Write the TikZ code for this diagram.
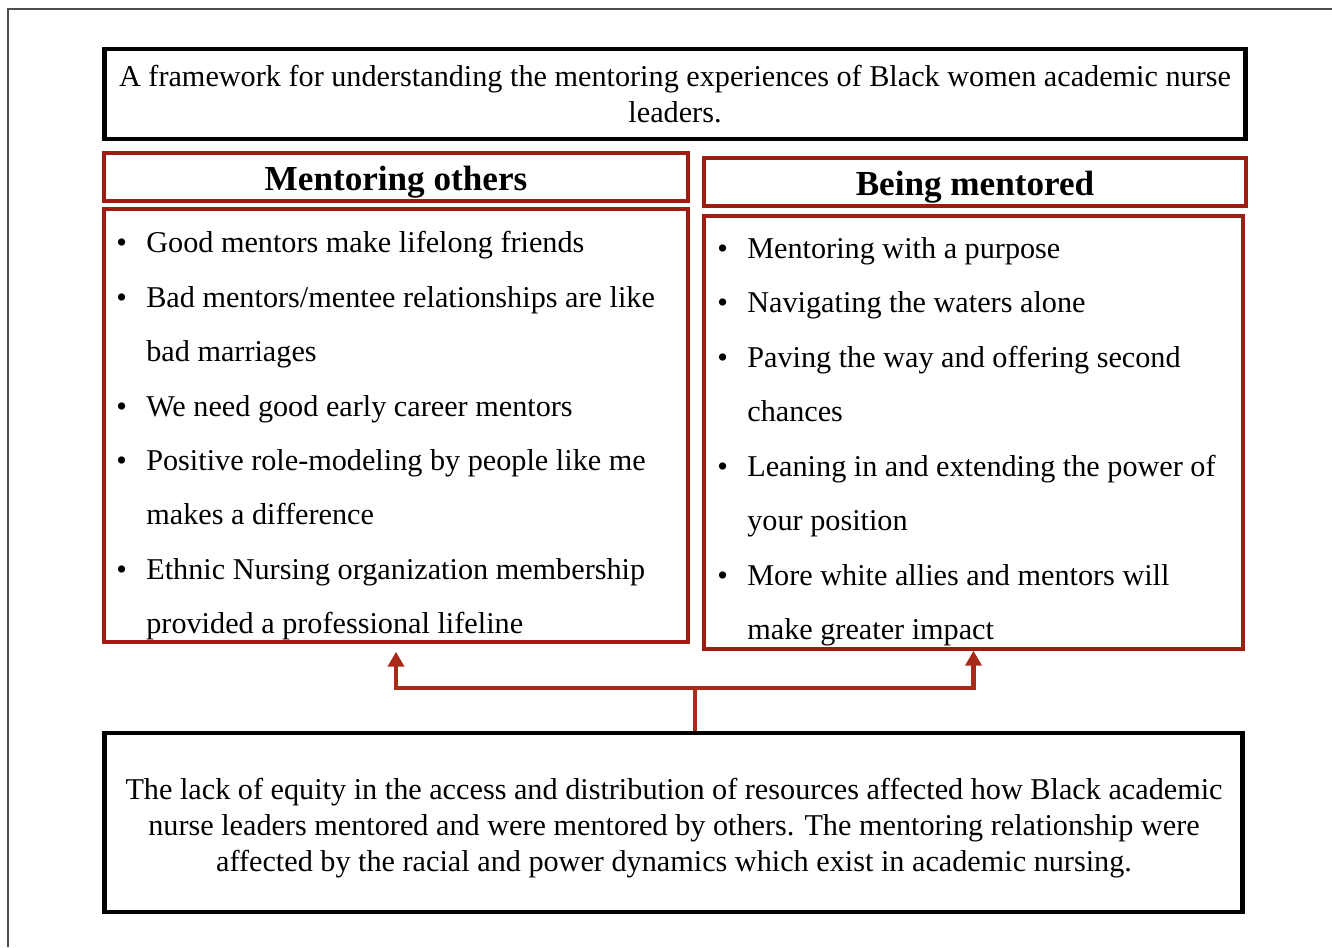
\documentclass[tikz,border=0pt]{standalone}
\usepackage{fontspec}
\setmainfont{Liberation Serif}
\usetikzlibrary{arrows.meta,positioning}

\definecolor{boxred}{RGB}{158,28,18}
\definecolor{linkred}{RGB}{168,42,24}

% bullet line and its continuation line
\newcommand{\bitem}[1]{\makebox[0.6cm][l]{\textbullet}#1}
\newcommand{\bcont}[1]{\hspace*{0.6cm}#1}

\tikzset{
  blackbox/.style={draw=black, line width=2.8pt, inner sep=0pt, align=center,
    font=\fontsize{17.2}{20.5}\selectfont},
  redbox/.style={draw=boxred, line width=2pt, inner sep=0pt},
  headbox/.style={redbox, minimum height=0.96cm, text height=20pt, text depth=4.5pt,
    font=\bfseries\fontsize{20}{24}\selectfont},
  themelist/.style={anchor=north west, inner sep=0pt, align=left,
    font=\fontsize{17.2}{31}\selectfont},
  fork/.style={draw=linkred, line width=2.3pt, -{Triangle[width=0.32cm,length=0.3cm]}},
}

\begin{document}
\begin{tikzpicture}[x=0.02cm,y=-0.02cm]
  \useasboundingbox (0,0) rectangle (1332,947);
  \draw[black!70, line width=0.8pt] (8,947) -- (8,9) -- (1332,9); % frame

  % title
  \node[blackbox, minimum width=22.84cm, minimum height=1.8cm] (title) at (675,94)
    {A framework for understanding the mentoring experiences of Black women academic nurse\\leaders.};

  % mentoring others
  \node[headbox, minimum width=11.68cm] (mentorhead) at (396,177) {Mentoring others};
  \node[redbox, minimum width=11.68cm, minimum height=8.66cm] (mentorbody) at (396,425.5) {};
  \node[themelist] (mentorlist) at (116,231) {%
    \bitem{Good mentors make lifelong friends}\\
    \bitem{Bad mentors/mentee relationships are like}\\
    \bcont{bad marriages}\\
    \bitem{We need good early career mentors}\\
    \bitem{Positive role-modeling by people like me}\\
    \bcont{makes a difference}\\
    \bitem{Ethnic Nursing organization membership}\\
    \bcont{provided a professional lifeline}};

  % being mentored
  \node[headbox, minimum width=10.84cm] (menteehead) at (975,182) {Being mentored};
  \node[redbox, minimum width=10.78cm, minimum height=8.66cm] (menteebody) at (973.5,432.5) {};
  \node[themelist] (menteelist) at (717,237) {%
    \bitem{Mentoring with a purpose}\\
    \bitem{Navigating the waters alone}\\
    \bitem{Paving the way and offering second}\\
    \bcont{chances}\\
    \bitem{Leaning in and extending the power of}\\
    \bcont{your position}\\
    \bitem{More white allies and mentors will}\\
    \bcont{make greater impact}};

  % equity statement
  \node[blackbox, minimum width=22.78cm, minimum height=3.58cm] (equity) at (673.5,822.5) {};
  \node[align=center, inner sep=0pt, font=\fontsize{17.2}{20.5}\selectfont] (equitytext) at (674,828)
    {The lack of equity in the access and distribution of resources affected how Black academic\\
     nurse leaders mentored and were mentored by others. The mentoring relationship were\\
     affected by the racial and power dynamics which exist in academic nursing.};

  % connectors
  \coordinate (split) at (695,688);
  \draw[draw=linkred, line width=2.3pt] (split |- equity.north) -- (split);
  \draw[fork, shorten >=0.16cm] (split) -| (mentorbody.south);
  \draw[fork] (split) -| (menteebody.south);
\end{tikzpicture}
\end{document}
